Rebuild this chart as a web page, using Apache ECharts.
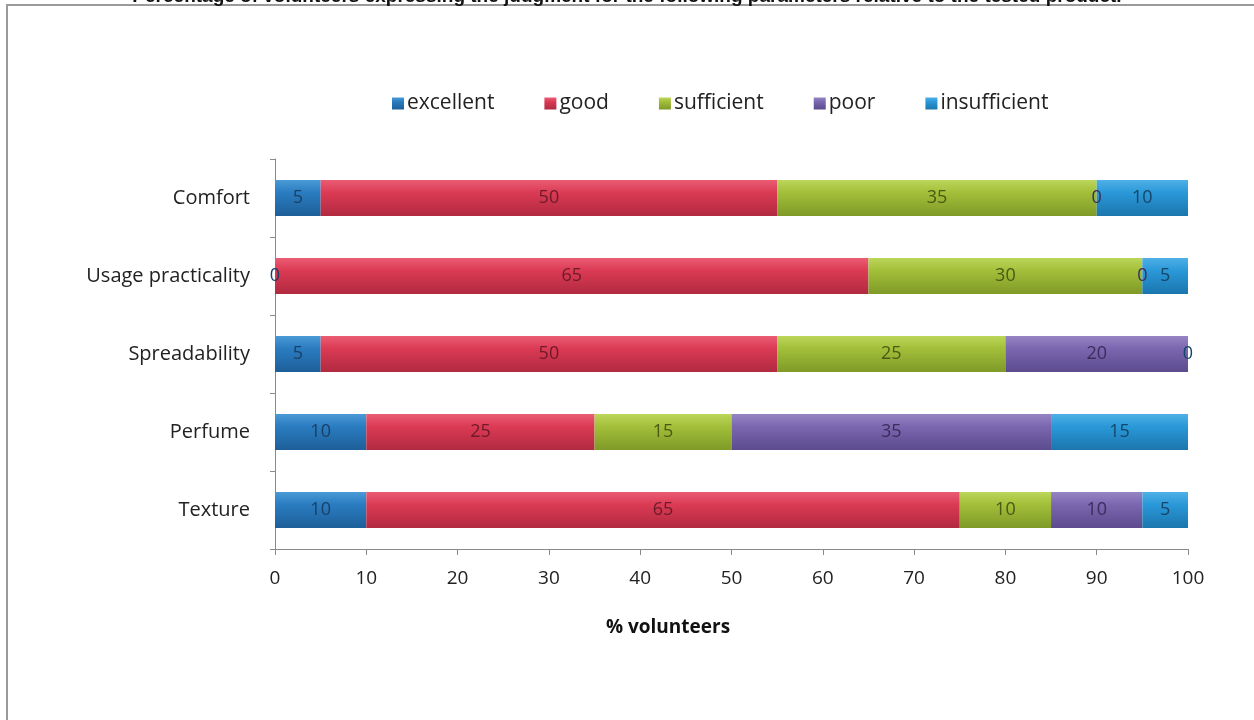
<!DOCTYPE html>
<html>
<head>
<meta charset="utf-8">
<script src="https://cdn.jsdelivr.net/npm/echarts@6/dist/echarts.min.js"></script>
<style>html,body{margin:0;padding:0;background:#fff;}#c{width:1254px;height:720px;}</style>
</head>
<body>
<div id="c"></div>
<script>
const categories = ['Comfort', 'Usage practicality', 'Spreadability', 'Perfume', 'Texture'];
const seriesNames = ['excellent', 'good', 'sufficient', 'poor', 'insufficient'];
const excellent = [5, 0, 5, 10, 10];
const good = [50, 65, 50, 25, 65];
const sufficient = [35, 30, 25, 15, 10];
const poor = [0, 0, 20, 35, 10];
const insufficient = [10, 5, 0, 15, 5];
const xTicks = [0, 10, 20, 30, 40, 50, 60, 70, 80, 90, 100];
const xAxisTitle = '% volunteers';
const chartTitle = 'Percentage of volunteers expressing the judgment for the following parameters relative to the tested product.';

const values = [excellent, good, sufficient, poor, insufficient];
const colors = [
  ['#4a9ad6', '#2a7cc0', '#1d5f99'],
  ['#ea5d74', '#db3a54', '#b12a40'],
  ['#bcd65a', '#a2bf3a', '#7f9a27'],
  ['#9685c4', '#7a67b0', '#5c4b8d'],
  ['#4fb0e6', '#2a98d8', '#1b76ad']
];
const labelColors = ['#1b3f66', '#6e1a28', '#4a5a14', '#3a2d5c', '#16456a'];

const chart = echarts.init(document.getElementById('c'));
const series = seriesNames.map((name, i) => ({
  name: name,
  type: 'bar',
  stack: 'total',
  barWidth: 36,
  data: values[i],
  itemStyle: {
    color: new echarts.graphic.LinearGradient(0, 0, 0, 1, [
      {offset: 0, color: colors[i][0]},
      {offset: 0.35, color: colors[i][1]},
      {offset: 1, color: colors[i][2]}
    ])
  },
  label: {
    show: true,
    position: 'inside',
    color: labelColors[i],
    fontFamily: 'Open Sans',
    fontSize: 18
  }
}));

chart.setOption({
  animation: false,
  backgroundColor: '#fff',
  color: colors.map(c => c[1]),
  graphic: [
    {type: 'rect', shape: {x: 7, y: 5, width: 1260, height: 740}, style: {fill: 'none', stroke: '#9a9a9a', lineWidth: 2}, z: -1},
    {type: 'text', left: 'center', top: -13, style: {text: chartTitle, font: 'bold 19px "Liberation Sans"', fill: '#111'}},
    {type: 'text', x: 668, y: 628, style: {text: xAxisTitle, font: 'bold 19px "Open Sans"', fill: '#111', textAlign: 'center', textVerticalAlign: 'middle'}}
  ],
  legend: {
    top: 88,
    left: 387,
    itemGap: 50,
    itemWidth: 12,
    itemHeight: 12,
    icon: 'rect',
    textStyle: {fontFamily: 'Open Sans', fontSize: 21, color: '#222', padding: [0, 0, 0, -2]},
    data: seriesNames
  },
  grid: {left: 275, right: 66, top: 159, bottom: 171, containLabel: false},
  xAxis: {
    type: 'value',
    min: 0,
    max: 100,
    interval: 10,
    axisLine: {show: true, lineStyle: {color: '#8a8a8a'}},
    axisTick: {show: true, length: 6, lineStyle: {color: '#8a8a8a'}},
    axisLabel: {fontFamily: 'Open Sans', fontSize: 19, color: '#222', margin: 20, formatter: v => xTicks.includes(v) ? String(v) : ''},
    splitLine: {show: false}
  },
  yAxis: {
    type: 'category',
    inverse: true,
    data: categories,
    axisLine: {show: true, lineStyle: {color: '#8a8a8a'}},
    axisTick: {show: true, length: 5, lineStyle: {color: '#8a8a8a'}},
    axisLabel: {fontFamily: 'Open Sans', fontSize: 20, color: '#222', margin: 25}
  },
  series: series
});
</script>
</body>
</html>
